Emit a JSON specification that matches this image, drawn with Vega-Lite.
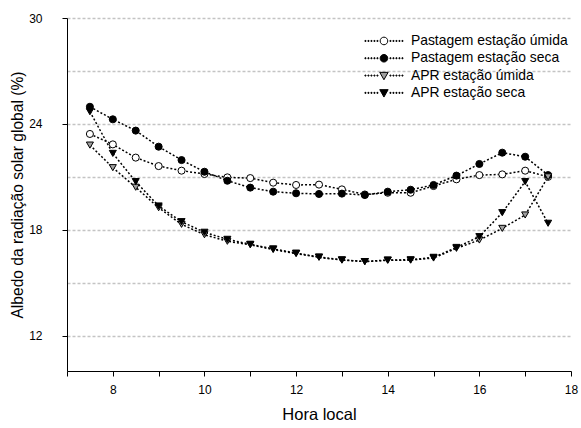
{
  "$schema": "https://vega.github.io/schema/vega-lite/v6.json",
  "width": 504,
  "height": 353,
  "autosize": {"type": "none"},
  "padding": {"left": 67, "top": 18, "right": 10, "bottom": 57},
  "background": "white",
  "config": {
    "view": {"stroke": null},
    "font": "Liberation Sans",
    "axis": {"labelFont": "Liberation Sans", "titleFont": "Liberation Sans", "labelColor": "black", "titleColor": "black", "domainColor": "black", "tickColor": "black", "titleFontWeight": "normal"}
  },
  "data": {
    "values": [
      {"hora": 7.5, "serie": "Pastagem estação úmida", "albedo": 23.43},
      {"hora": 8, "serie": "Pastagem estação úmida", "albedo": 22.84},
      {"hora": 8.5, "serie": "Pastagem estação úmida", "albedo": 22.09},
      {"hora": 9, "serie": "Pastagem estação úmida", "albedo": 21.61},
      {"hora": 9.5, "serie": "Pastagem estação úmida", "albedo": 21.35},
      {"hora": 10, "serie": "Pastagem estação úmida", "albedo": 21.16},
      {"hora": 10.5, "serie": "Pastagem estação úmida", "albedo": 20.97},
      {"hora": 11, "serie": "Pastagem estação úmida", "albedo": 20.93},
      {"hora": 11.5, "serie": "Pastagem estação úmida", "albedo": 20.67},
      {"hora": 12, "serie": "Pastagem estação úmida", "albedo": 20.54},
      {"hora": 12.5, "serie": "Pastagem estação úmida", "albedo": 20.56},
      {"hora": 13, "serie": "Pastagem estação úmida", "albedo": 20.29},
      {"hora": 13.5, "serie": "Pastagem estação úmida", "albedo": 20.0},
      {"hora": 14, "serie": "Pastagem estação úmida", "albedo": 20.1},
      {"hora": 14.5, "serie": "Pastagem estação úmida", "albedo": 20.1},
      {"hora": 15, "serie": "Pastagem estação úmida", "albedo": 20.48},
      {"hora": 15.5, "serie": "Pastagem estação úmida", "albedo": 20.86},
      {"hora": 16, "serie": "Pastagem estação úmida", "albedo": 21.1},
      {"hora": 16.5, "serie": "Pastagem estação úmida", "albedo": 21.14},
      {"hora": 17, "serie": "Pastagem estação úmida", "albedo": 21.35},
      {"hora": 17.5, "serie": "Pastagem estação úmida", "albedo": 21.0},
      {"hora": 7.5, "serie": "Pastagem estação seca", "albedo": 24.97},
      {"hora": 8, "serie": "Pastagem estação seca", "albedo": 24.26},
      {"hora": 8.5, "serie": "Pastagem estação seca", "albedo": 23.62},
      {"hora": 9, "serie": "Pastagem estação seca", "albedo": 22.71},
      {"hora": 9.5, "serie": "Pastagem estação seca", "albedo": 21.95},
      {"hora": 10, "serie": "Pastagem estação seca", "albedo": 21.29},
      {"hora": 10.5, "serie": "Pastagem estação seca", "albedo": 20.78},
      {"hora": 11, "serie": "Pastagem estação seca", "albedo": 20.39},
      {"hora": 11.5, "serie": "Pastagem estação seca", "albedo": 20.16},
      {"hora": 12, "serie": "Pastagem estação seca", "albedo": 20.07},
      {"hora": 12.5, "serie": "Pastagem estação seca", "albedo": 20.03},
      {"hora": 13, "serie": "Pastagem estação seca", "albedo": 20.05},
      {"hora": 13.5, "serie": "Pastagem estação seca", "albedo": 19.97},
      {"hora": 14, "serie": "Pastagem estação seca", "albedo": 20.16},
      {"hora": 14.5, "serie": "Pastagem estação seca", "albedo": 20.27},
      {"hora": 15, "serie": "Pastagem estação seca", "albedo": 20.54},
      {"hora": 15.5, "serie": "Pastagem estação seca", "albedo": 21.07},
      {"hora": 16, "serie": "Pastagem estação seca", "albedo": 21.73},
      {"hora": 16.5, "serie": "Pastagem estação seca", "albedo": 22.37},
      {"hora": 17, "serie": "Pastagem estação seca", "albedo": 22.14},
      {"hora": 17.5, "serie": "Pastagem estação seca", "albedo": 21.1},
      {"hora": 7.5, "serie": "APR estação úmida", "albedo": 22.8},
      {"hora": 8, "serie": "APR estação úmida", "albedo": 21.52},
      {"hora": 8.5, "serie": "APR estação úmida", "albedo": 20.41},
      {"hora": 9, "serie": "APR estação úmida", "albedo": 19.25},
      {"hora": 9.5, "serie": "APR estação úmida", "albedo": 18.31},
      {"hora": 10, "serie": "APR estação úmida", "albedo": 17.72},
      {"hora": 10.5, "serie": "APR estação úmida", "albedo": 17.35},
      {"hora": 11, "serie": "APR estação úmida", "albedo": 17.15},
      {"hora": 11.5, "serie": "APR estação úmida", "albedo": 16.88},
      {"hora": 12, "serie": "APR estação úmida", "albedo": 16.65},
      {"hora": 12.5, "serie": "APR estação úmida", "albedo": 16.44},
      {"hora": 13, "serie": "APR estação úmida", "albedo": 16.28},
      {"hora": 13.5, "serie": "APR estação úmida", "albedo": 16.2},
      {"hora": 14, "serie": "APR estação úmida", "albedo": 16.27},
      {"hora": 14.5, "serie": "APR estação úmida", "albedo": 16.28},
      {"hora": 15, "serie": "APR estação úmida", "albedo": 16.4},
      {"hora": 15.5, "serie": "APR estação úmida", "albedo": 16.95},
      {"hora": 16, "serie": "APR estação úmida", "albedo": 17.42},
      {"hora": 16.5, "serie": "APR estação úmida", "albedo": 18.08},
      {"hora": 17, "serie": "APR estação úmida", "albedo": 18.84},
      {"hora": 17.5, "serie": "APR estação úmida", "albedo": 21.0},
      {"hora": 7.5, "serie": "APR estação seca", "albedo": 24.69},
      {"hora": 8, "serie": "APR estação seca", "albedo": 22.33},
      {"hora": 8.5, "serie": "APR estação seca", "albedo": 20.73},
      {"hora": 9, "serie": "APR estação seca", "albedo": 19.35},
      {"hora": 9.5, "serie": "APR estação seca", "albedo": 18.46},
      {"hora": 10, "serie": "APR estação seca", "albedo": 17.86},
      {"hora": 10.5, "serie": "APR estação seca", "albedo": 17.46},
      {"hora": 11, "serie": "APR estação seca", "albedo": 17.18},
      {"hora": 11.5, "serie": "APR estação seca", "albedo": 16.92},
      {"hora": 12, "serie": "APR estação seca", "albedo": 16.68},
      {"hora": 12.5, "serie": "APR estação seca", "albedo": 16.46},
      {"hora": 13, "serie": "APR estação seca", "albedo": 16.3},
      {"hora": 13.5, "serie": "APR estação seca", "albedo": 16.2},
      {"hora": 14, "serie": "APR estação seca", "albedo": 16.29},
      {"hora": 14.5, "serie": "APR estação seca", "albedo": 16.3},
      {"hora": 15, "serie": "APR estação seca", "albedo": 16.44},
      {"hora": 15.5, "serie": "APR estação seca", "albedo": 17.0},
      {"hora": 16, "serie": "APR estação seca", "albedo": 17.61},
      {"hora": 16.5, "serie": "APR estação seca", "albedo": 18.97},
      {"hora": 17, "serie": "APR estação seca", "albedo": 20.73},
      {"hora": 17.5, "serie": "APR estação seca", "albedo": 18.37}
    ]
  },
  "encoding": {
    "x": {
      "field": "hora", "type": "quantitative",
      "scale": {"domain": [7, 18], "nice": false, "zero": false},
      "axis": {
        "title": "Hora local", "titleFontSize": 16.5, "titlePadding": 11,
        "values": [7, 8, 9, 10, 11, 12, 13, 14, 15, 16, 17, 18],
        "labelExpr": "datum.value % 2 === 0 ? datum.label : ''",
        "labelFontSize": 12, "labelPadding": 8, "tickSize": 5,
        "grid": false, "labelFlush": false
      }
    },
    "y": {
      "field": "albedo", "type": "quantitative",
      "scale": {"domain": [10, 30], "nice": false, "zero": false},
      "axis": {
        "title": "Albedo da radiação solar global (%)", "titleFontSize": 15.6, "titlePadding": 3,
        "values": [12, 15, 18, 21, 24, 27, 30],
        "labelExpr": "datum.value % 6 === 0 ? datum.label : ''",
        "tickOpacity": {"condition": {"test": "datum.value % 6 === 0", "value": 1}, "value": 0},
        "labelFontSize": 12, "labelPadding": 20, "tickSize": 5,
        "grid": true, "gridColor": "#c4c4c4", "gridDash": [3, 2], "gridWidth": 1.5,
        "labelFlush": false
      }
    }
  },
  "resolve": {"scale": {"shape": "independent", "fill": "independent", "stroke": "independent"}},
  "layer": [
    {
      "mark": {"type": "line", "color": "black", "strokeDash": [2, 2], "strokeWidth": 1.5},
      "encoding": {"detail": {"field": "serie"}}
    },
    {
      "mark": {"type": "point", "filled": true, "stroke": "black", "strokeWidth": 1, "size": 50, "opacity": 1},
      "encoding": {
        "shape": {
          "field": "serie", "type": "nominal",
          "scale": {
            "domain": ["Pastagem estação úmida", "Pastagem estação seca", "APR estação úmida", "APR estação seca"],
            "range": ["circle", "circle", "triangle-down", "triangle-down"]
          },
          "legend": null
        },
        "fill": {
          "field": "serie", "type": "nominal",
          "scale": {
            "domain": ["Pastagem estação úmida", "Pastagem estação seca", "APR estação úmida", "APR estação seca"],
            "range": ["white", "black", "#a0a0a0", "black"]
          },
          "legend": null
        }
      }
    },
    {
      "transform": [{"filter": "false"}],
      "mark": {"type": "point", "filled": true, "strokeWidth": 1, "opacity": 1},
      "encoding": {
        "shape": {
          "field": "serie", "type": "nominal",
          "scale": {
            "domain": ["Pastagem estação úmida", "Pastagem estação seca", "APR estação úmida", "APR estação seca"],
            "range": [
              "M0.76,0A0.76,0.76,0,1,1,-0.76,0A0.76,0.76,0,1,1,0.76,0ZM-3.8,-0.1h0.2v0.2h-0.2zM-3.2,-0.1h0.2v0.2h-0.2zM-2.6,-0.1h0.2v0.2h-0.2zM-2.0,-0.1h0.2v0.2h-0.2zM-1.4,-0.1h0.2v0.2h-0.2zM1.2,-0.1h0.2v0.2h-0.2zM1.8,-0.1h0.2v0.2h-0.2zM2.4,-0.1h0.2v0.2h-0.2zM3.0,-0.1h0.2v0.2h-0.2zM3.6,-0.1h0.2v0.2h-0.2z",
              "M0.76,0A0.76,0.76,0,1,1,-0.76,0A0.76,0.76,0,1,1,0.76,0ZM-3.8,-0.1h0.2v0.2h-0.2zM-3.2,-0.1h0.2v0.2h-0.2zM-2.6,-0.1h0.2v0.2h-0.2zM-2.0,-0.1h0.2v0.2h-0.2zM-1.4,-0.1h0.2v0.2h-0.2zM1.2,-0.1h0.2v0.2h-0.2zM1.8,-0.1h0.2v0.2h-0.2zM2.4,-0.1h0.2v0.2h-0.2zM3.0,-0.1h0.2v0.2h-0.2zM3.6,-0.1h0.2v0.2h-0.2z",
              "M-0.84,-0.64L0.84,-0.64L0,0.84ZM-3.8,-0.1h0.2v0.2h-0.2zM-3.2,-0.1h0.2v0.2h-0.2zM-2.6,-0.1h0.2v0.2h-0.2zM-2.0,-0.1h0.2v0.2h-0.2zM-1.4,-0.1h0.2v0.2h-0.2zM1.2,-0.1h0.2v0.2h-0.2zM1.8,-0.1h0.2v0.2h-0.2zM2.4,-0.1h0.2v0.2h-0.2zM3.0,-0.1h0.2v0.2h-0.2zM3.6,-0.1h0.2v0.2h-0.2z",
              "M-0.84,-0.64L0.84,-0.64L0,0.84ZM-3.8,-0.1h0.2v0.2h-0.2zM-3.2,-0.1h0.2v0.2h-0.2zM-2.6,-0.1h0.2v0.2h-0.2zM-2.0,-0.1h0.2v0.2h-0.2zM-1.4,-0.1h0.2v0.2h-0.2zM1.2,-0.1h0.2v0.2h-0.2zM1.8,-0.1h0.2v0.2h-0.2zM2.4,-0.1h0.2v0.2h-0.2zM3.0,-0.1h0.2v0.2h-0.2zM3.6,-0.1h0.2v0.2h-0.2z"
            ]
          },
          "legend": {
            "title": null, "orient": "none", "legendX": 310, "legendY": 16,
            "labelFontSize": 13.9, "labelFont": "Liberation Sans", "labelColor": "black",
            "symbolSize": 100, "symbolStrokeWidth": 1, "symbolOpacity": 1,
            "labelOffset": 20, "rowPadding": 2.3
          }
        },
        "fill": {
          "field": "serie", "type": "nominal",
          "scale": {
            "domain": ["Pastagem estação úmida", "Pastagem estação seca", "APR estação úmida", "APR estação seca"],
            "range": ["white", "black", "#a0a0a0", "black"]
          }
        },
        "stroke": {
          "field": "serie", "type": "nominal",
          "scale": {
            "domain": ["Pastagem estação úmida", "Pastagem estação seca", "APR estação úmida", "APR estação seca"],
            "range": ["black", "black", "black", "black"]
          }
        }
      }
    }
  ]
}
